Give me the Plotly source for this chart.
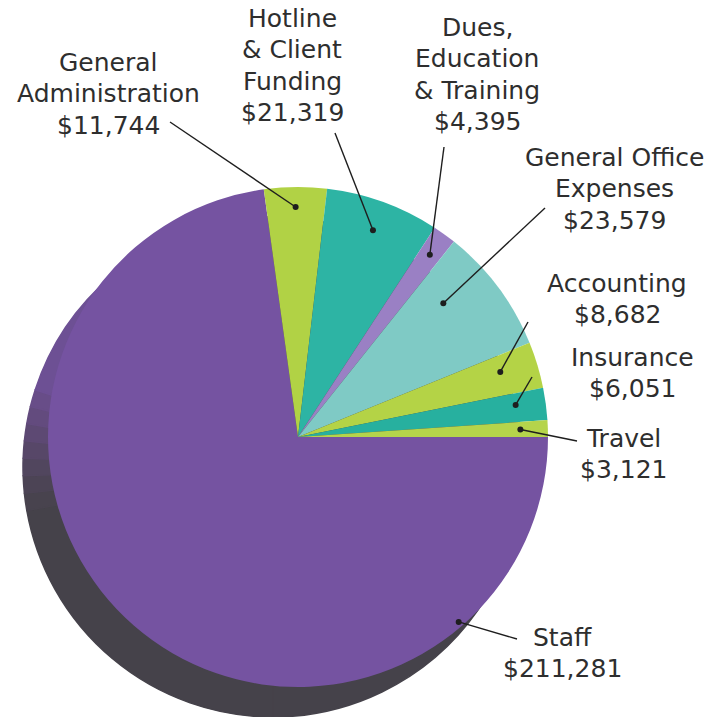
import math
import plotly.graph_objects as go

# ---------------- data ----------------
categories = ["Staff", "General Administration", "Hotline & Client Funding",
              "Dues, Education & Training", "General Office Expenses",
              "Accounting", "Insurance", "Travel"]
values = [211281, 11744, 21319, 4395, 23579, 8682, 6051, 3121]
label_names = [["Staff"], ["General", "Administration"], ["Hotline", "& Client", "Funding"],
               ["Dues,", "Education", "& Training"], ["General Office", "Expenses"],
               ["Accounting"], ["Insurance"], ["Travel"]]

# ---------------- style / layout ----------------
colors = ["#7553a1", "#b1d245", "#2db4a4", "#9a80c4", "#7fcac5", "#b4d346", "#27b09f", "#b5d44b"]
W, H = 728, 717
CX, CY, R = 298, 437, 250          # main pie centre / radius in px
SCX, SCY = 273, 467                # shadow (extrusion) pie centre
START = 90                          # first slice starts at 3 o'clock

# shadow shading segments (degrees clockwise, starting at 6 o'clock)
shadow_span = [80, 4, 4, 4, 4, 4, 4, 4, 32, 220]
shadow_cols = ["#45424a", "#48434e", "#4c4455", "#51465e", "#574768", "#5d4973",
               "#634b7e", "#684d88", "#6d5094", "#45424a"]

text_pos = [(562, 637), (108, 62), (292, 18), (477, 27), (614, 157), (617, 283), (632, 357), (623, 438)]
line_end = [(517, 639), (170, 122), (335, 133), (444, 147), (545, 208), (528, 322), (532, 377), (577, 441)]
dot_frac = [0.187, 0.5, 0.5, 0.5, 0.3, 0.4, 0.4, 0.5]
dot_rad = [0.98, 0.92, 0.88, 0.9, 0.79, 0.85, 0.88, 0.89]
LINE_H = 31.5
FONT = "DejaVu Sans"
FSIZE = 25
TXT = "#2e2e2e"
INK = "#1e1e1e"

fig = go.Figure()

fig.add_trace(go.Pie(
    values=shadow_span, sort=False, direction="clockwise", rotation=180,
    marker=dict(colors=shadow_cols, line=dict(width=1.5, color=shadow_cols)),
    textinfo="none", hoverinfo="skip", showlegend=False,
    domain=dict(x=[(SCX - R) / W, (SCX + R) / W], y=[max(0, (H - SCY - R) / H), (H - SCY + R) / H]),
))

fig.add_trace(go.Pie(
    labels=categories, values=values, sort=False, direction="clockwise", rotation=START,
    marker=dict(colors=colors, line=dict(width=0)),
    textinfo="none", showlegend=False,
    domain=dict(x=[(CX - R) / W, (CX + R) / W], y=[(H - CY - R) / H, (H - CY + R) / H]),
))

# leader lines and dots, placed from slice angles
total = sum(values)
cum = 0.0
shapes = []
for i, v in enumerate(values):
    span = v / total * 360
    ang = math.radians(START + cum + dot_frac[i] * span)
    cum += span
    px = CX + dot_rad[i] * R * math.sin(ang)
    py = CY - dot_rad[i] * R * math.cos(ang)
    shapes.append(dict(type="line", xref="x", yref="y", x0=px, y0=py,
                       x1=line_end[i][0], y1=line_end[i][1], layer="above",
                       line=dict(color=INK, width=1.4)))
    shapes.append(dict(type="circle", xref="x", yref="y", x0=px - 3, x1=px + 3,
                       y0=py - 3, y1=py + 3, layer="above",
                       fillcolor=INK, line=dict(width=0)))

for i, v in enumerate(values):
    lines = label_names[i] + ["$" + f"{v:,}"]
    for k, t in enumerate(lines):
        fig.add_annotation(x=text_pos[i][0], y=text_pos[i][1] + k * LINE_H, xref="x", yref="y",
                           text=t, showarrow=False, xanchor="center", yanchor="middle",
                           font=dict(family=FONT, size=FSIZE, color=TXT))

fig.update_layout(
    width=W, height=H, margin=dict(l=0, r=0, t=0, b=0),
    paper_bgcolor="white", plot_bgcolor="rgba(0,0,0,0)",
    xaxis=dict(range=[0, W], visible=False, domain=[0, 1], fixedrange=True),
    yaxis=dict(range=[H, 0], visible=False, domain=[0, 1], fixedrange=True),
    shapes=shapes,
)

fig.write_html("out.html", config={"displayModeBar": False},
               post_script="document.body.style.margin='0';document.body.style.padding='0';")
